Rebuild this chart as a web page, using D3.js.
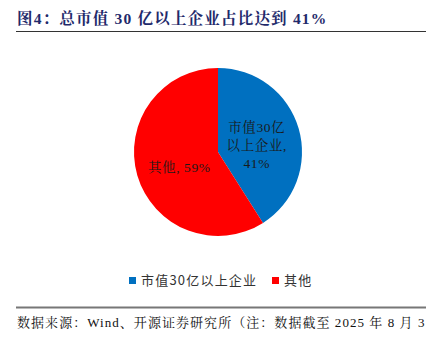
<!DOCTYPE html>
<html>
<head>
<meta charset="utf-8">
<script src="https://cdn.jsdelivr.net/npm/d3@7"></script>
<style>
  html, body { margin: 0; padding: 0; background: #fff; overflow: hidden; }
  svg { display: block; }
</style>
</head>
<body>
<svg id="chart" width="426" height="341"></svg>
<script>
const categories = ["市值30亿以上企业", "其他"];
const shares = [41, 59];
const colors = ["#0070C0", "#FF0000"];
const sliceLabels = [["市值30亿", "以上企业,", "41%"], ["其他, 59%"]];

const title = "图4：总市值 30 亿以上企业占比达到 41%";
const source = "数据来源：Wind、开源证券研究所（注：数据截至 2025 年 8 月 3";

const svg = d3.select("#chart");
const serif = "'Liberation Serif', 'Noto Serif CJK SC', 'Noto Sans CJK SC', serif";

// title and rule
svg.append("text")
  .attr("x", 17).attr("y", 24)
  .attr("font-family", serif)
  .attr("font-size", 15.5).attr("font-weight", "bold")
  .attr("letter-spacing", 1.2)
  .attr("fill", "#1F2A6B")
  .text(title);
svg.append("line")
  .attr("x1", 16).attr("x2", 426).attr("y1", 31.5).attr("y2", 31.5)
  .attr("stroke", "#333").attr("stroke-width", 1.2);

// pie
const cx = 218, cy = 152, r = 84;
const pie = d3.pie().sort(null).value(d => d)(shares);
const arc = d3.arc().innerRadius(0).outerRadius(r);
const g = svg.append("g").attr("transform", `translate(${cx},${cy})`);
g.selectAll("path").data(pie).join("path")
  .attr("d", arc)
  .attr("fill", (d, i) => colors[i]);

// slice labels
const labelArc = d3.arc().innerRadius(r * 0.48).outerRadius(r * 0.48);
const lineH = 18;
g.selectAll("text.lbl").data(pie).join("text")
  .attr("class", "lbl")
  .attr("font-family", serif)
  .attr("font-size", 13.5)
  .attr("letter-spacing", 0.6)
  .attr("fill", "#1a1a1a")
  .attr("text-anchor", "middle")
  .each(function(d, i) {
    const [x, y] = labelArc.centroid(d);
    const lines = sliceLabels[i];
    const t = d3.select(this);
    const y0 = y - (lines.length - 1) * lineH / 2 + 9;
    lines.forEach((s, k) => {
      t.append("tspan").attr("x", x).attr("y", y0 + k * lineH).text(s);
    });
  });

// legend
const legendFont = "'Noto Sans CJK SC', sans-serif";
const legendItems = [{x: 129}, {x: 272}];
const lg = svg.append("g");
categories.forEach((c, i) => {
  const x = legendItems[i].x;
  lg.append("rect").attr("x", x).attr("y", 277).attr("width", 7).attr("height", 7).attr("fill", colors[i]);
  lg.append("text").attr("x", x + 12).attr("y", 285)
    .attr("font-family", legendFont).attr("font-size", 13).attr("fill", "#333")
    .attr("letter-spacing", 1.2)
    .text(c);
});

// source note
svg.append("line")
  .attr("x1", 16).attr("x2", 426).attr("y1", 307.5).attr("y2", 307.5)
  .attr("stroke", "#777").attr("stroke-width", 2);
svg.append("text")
  .attr("x", 17).attr("y", 327)
  .attr("font-family", serif)
  .attr("font-size", 13).attr("fill", "#111")
  .attr("letter-spacing", 1.05)
  .text(source);
</script>
</body>
</html>
